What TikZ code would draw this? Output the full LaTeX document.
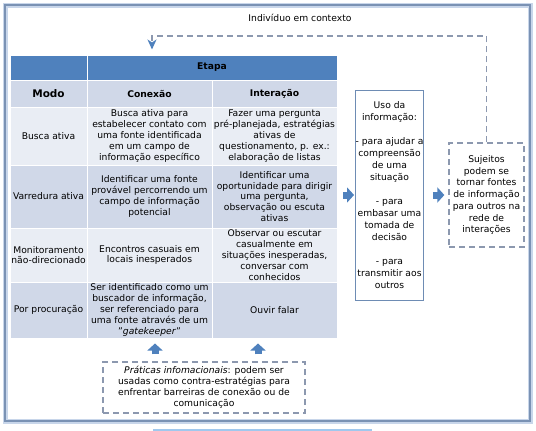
\documentclass[tikz,border=0pt]{standalone}
\usepackage{fontspec}
\setmainfont{DejaVu Sans}
\usepackage{xcolor}
\usepackage{tikz}
\usetikzlibrary{positioning,calc,arrows.meta}
\definecolor{headBlue}{RGB}{79,129,189}
\definecolor{rowDark}{RGB}{208,216,232}
\definecolor{rowLight}{RGB}{233,237,244}
\definecolor{frameBlue}{RGB}{122,146,180}
\definecolor{frameLight}{RGB}{200,214,234}
\definecolor{dashGray}{RGB}{140,152,175}
\definecolor{boxBlue}{RGB}{110,140,180}
\definecolor{stripBlue}{RGB}{160,200,238}
\tikzset{
  cellBox/.style={
    rectangle,
    draw=white,
    line width=1pt,
    inner sep=0pt,
    align=center,
    font=\fontsize{9.2}{10.8}\selectfont
  },
  headCell/.style={
    cellBox,
    fill=headBlue,
    font=\bfseries\fontsize{9.2}{10.8}\selectfont
  },
  subHead/.style={
    cellBox,
    fill=rowDark,
    font=\bfseries\fontsize{9.2}{10.8}\selectfont
  },
  darkRow/.style={cellBox, fill=rowDark},
  lightRow/.style={cellBox, fill=rowLight},
  modoCol/.style={minimum width=77pt},
  etapaCol/.style={minimum width=125pt},
  usoBox/.style={
    rectangle,
    draw=boxBlue,
    line width=1pt,
    fill=white,
    inner sep=0pt,
    minimum width=67pt,
    minimum height=210pt,
    align=center,
    font=\fontsize{9.2}{12}\selectfont
  },
  dashBox/.style={
    rectangle,
    draw=dashGray,
    line width=1.3pt,
    dash pattern=on 6pt off 4pt,
    inner sep=0pt,
    align=center,
    font=\fontsize{9.2}{11}\selectfont
  },
  blockArrow/.style={
    draw=headBlue,
    line width=7pt,
    -{Triangle[length=7pt,width=15pt]}
  },
  dashLine/.style={
    draw=dashGray,
    line width=1.3pt,
    dash pattern=on 6pt off 4pt,
    -{Stealth[length=10pt,width=9pt,inset=3pt,color=headBlue]},
    shorten >=5pt
  }
}

\begin{document}
\begin{tikzpicture}[x=1pt,y=-1pt]
        \useasboundingbox (0,0) rectangle (536,431);
        \draw[frameLight, line width=5pt] (5,5) rectangle (530,421);
        \draw[frameBlue, line width=2.5pt] (5,5) rectangle (530,421);
        \draw[stripBlue, line width=2pt] (153,429.5) -- (372,429.5);

        \node[font=\fontsize{9.2}{11}\selectfont] (individuo) at (300,18) {Indivíduo em contexto};

        \node[headCell, modoCol, minimum height=25pt] (cornerHead) at (48.5,67.5) {};
        \node[headCell, minimum width=250pt, minimum height=25pt] (etapaHead) at (212,67.5) {Etapa};

        \node[subHead, modoCol, minimum height=27pt, font=\bfseries\fontsize{10.5}{12}\selectfont] (modoHead) at (48.5,93.5) {Modo};
        \node[subHead, etapaCol, minimum height=27pt] (conHead) at (149.5,93.5) {Conexão};
        \node[subHead, etapaCol, minimum height=27pt] (intHead) at (274.5,93.5) {Interação};

        \node[lightRow, modoCol, minimum height=58pt] (buscaModo) at (48.5,136) {Busca ativa};
        \node[lightRow, etapaCol, minimum height=58pt] (buscaCon) at (149.5,136) {Busca ativa para\\estabelecer contato com\\uma fonte identificada\\em um campo de\\informação específico};
        \node[lightRow, etapaCol, minimum height=58pt] (buscaInt) at (274.5,136) {Fazer uma pergunta\\pré-planejada, estratégias\\ativas de\\questionamento, p. ex.:\\elaboração de listas};

        \node[darkRow, modoCol, minimum height=63pt] (varrModo) at (48.5,196.5) {Varredura ativa};
        \node[darkRow, etapaCol, minimum height=63pt] (varrCon) at (149.5,196.5) {Identificar uma fonte\\provável percorrendo um\\campo de informação\\potencial};
        \node[darkRow, etapaCol, minimum height=63pt] (varrInt) at (274.5,196.5) {Identificar uma\\oportunidade para dirigir\\uma pergunta,\\observação ou escuta\\ativas};

        \node[lightRow, modoCol, minimum height=54pt] (monitModo) at (48.5,255) {Monitoramento\\não-direcionado};
        \node[lightRow, etapaCol, minimum height=54pt] (monitCon) at (149.5,255) {Encontros casuais em\\locais inesperados};
        \node[lightRow, etapaCol, minimum height=54pt] (monitInt) at (274.5,255) {Observar ou escutar\\casualmente em\\situações inesperadas,\\conversar com\\conhecidos};

        \node[darkRow, modoCol, minimum height=56pt] (procModo) at (48.5,310) {Por procuração};
        \node[darkRow, etapaCol, minimum height=56pt] (procCon) at (149.5,310) {Ser identificado como um\\buscador de informação,\\ser referenciado para\\uma fonte através de um\\"\textit{gatekeeper}"};
        \node[darkRow, etapaCol, minimum height=56pt] (procInt) at (274.5,310) {Ouvir falar};

        \node[usoBox] (uso) at (389.5,195) {Uso da\\informação:\\[12pt]- para ajudar a\\compreensão\\de uma\\situação\\[12pt]- para\\embasar uma\\tomada de\\decisão\\[12pt]- para\\transmitir aos\\outros};
        \node[dashBox, minimum width=75pt, minimum height=104pt, font=\fontsize{9.2}{11.7}\selectfont] (sujeitos) at (486.5,195) {Sujeitos\\podem se\\tornar fontes\\de informação\\para outros na\\rede de\\interações};
        \node[dashBox, minimum width=202pt, minimum height=51pt] (praticas) at (204,387.5) {\textit{Práticas infomacionais}: podem ser\\usadas como contra-estratégias para\\enfrentar barreiras de conexão ou de\\comunicação};

        \coordinate (loopCorner) at (152,36);

        \draw[blockArrow, shorten <=5.5pt, shorten >=1pt] (varrInt.east |- uso.west) -- (uso.west);
        \draw[blockArrow, shorten <=9pt, shorten >=4pt] (uso.east) -- (sujeitos.west);
        \draw[blockArrow, shorten <=7pt, shorten >=5pt] ([xshift=-49pt]praticas.north) -- ([xshift=-49pt]praticas.north |- procCon.south);
        \draw[blockArrow, shorten <=7pt, shorten >=5pt] ([xshift=54pt]praticas.north) -- ([xshift=54pt]praticas.north |- procInt.south);
        \draw[dashLine] (sujeitos.north) |- (loopCorner) -- (loopCorner |- etapaHead.north);
    \end{tikzpicture}
\end{document}
